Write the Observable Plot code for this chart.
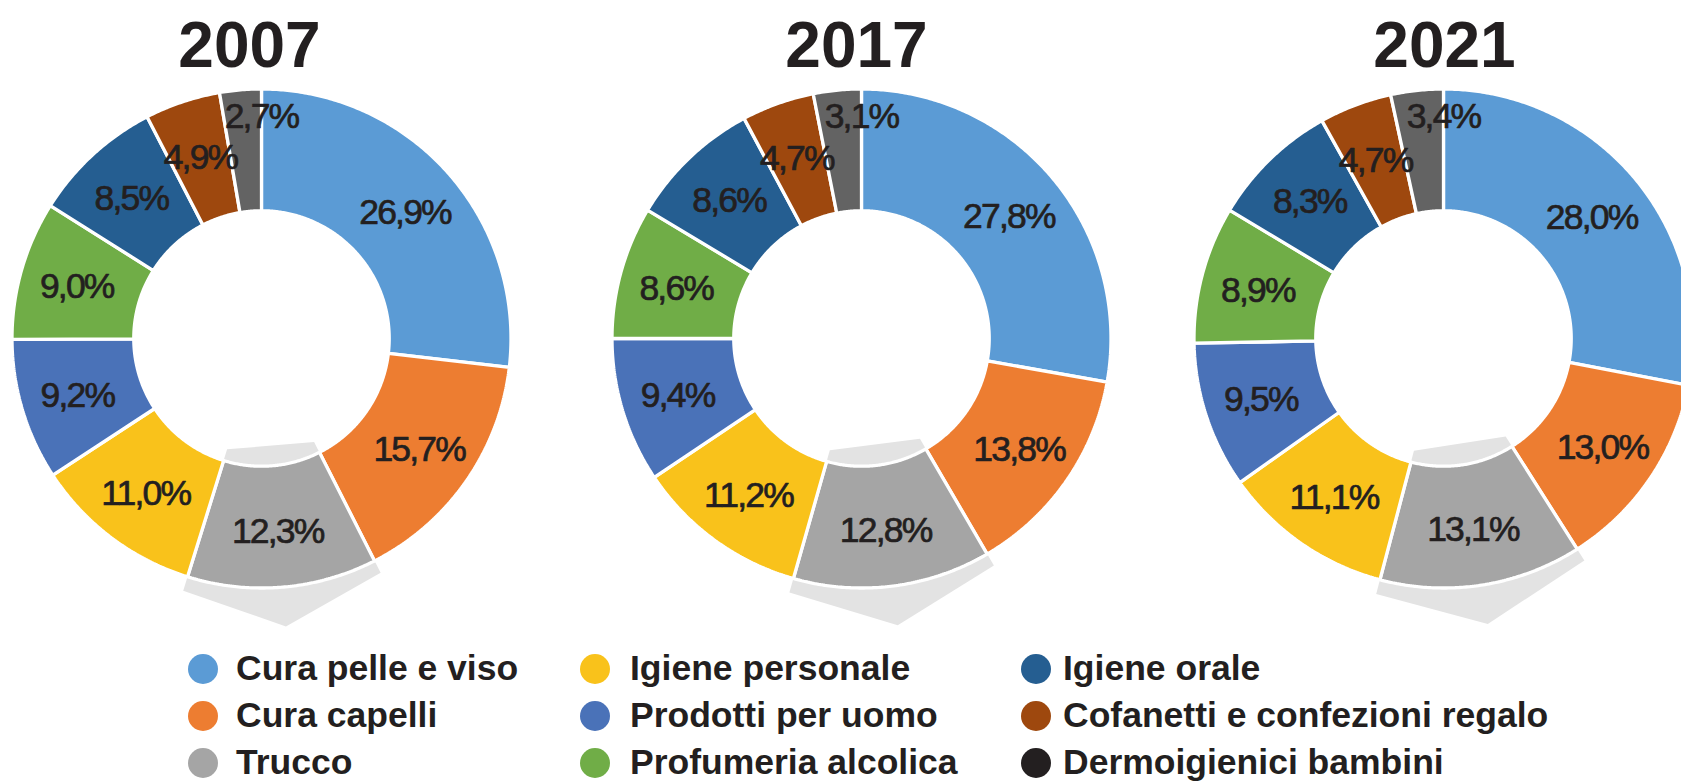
<!DOCTYPE html>
<html>
<head>
<meta charset="utf-8">
<script src="https://cdn.jsdelivr.net/npm/d3@7"></script>
<script src="https://cdn.jsdelivr.net/npm/@observablehq/plot@0.6"></script>
<style>
  html, body { margin: 0; padding: 0; background: #fff; overflow: hidden; width: 1681px; }
  #chart svg { display: block; }
  #legend { position: relative; width: 1681px; height: 136px;
    font-family: "Liberation Sans", Arial, sans-serif; font-weight: bold; font-size: 35.5px; color: #231f20; }
  #legend .dot { position: absolute; width: 30px; height: 30px; border-radius: 50%; }
  #legend .lab { position: absolute; height: 47px; line-height: 47px; white-space: nowrap; }
</style>
</head>
<body>
<div id="chart"></div>
<div id="legend"></div>
<script>
// ---------- data ----------
const categories = [
  "Cura pelle e viso", "Cura capelli", "Trucco", "Igiene personale",
  "Prodotti per uomo", "Profumeria alcolica", "Igiene orale",
  "Cofanetti e confezioni regalo", "Dermoigienici bambini"
];
const years = ["2007", "2017", "2021"];
const values2007 = [26.9, 15.7, 12.3, 11.0, 9.2, 9.0, 8.5, 4.9, 2.7];
const values2017 = [27.8, 13.8, 12.8, 11.2, 9.4, 8.6, 8.6, 4.7, 3.1];
const values2021 = [28.0, 13.0, 13.1, 11.1, 9.5, 8.9, 8.3, 4.7, 3.4];
const highlighted = "Trucco";

// ---------- style / layout ----------
const sliceColors = ["#5b9bd5", "#ed7d31", "#a5a5a5", "#f9c21b", "#4a72b8", "#70ad47", "#255e91", "#9e480e", "#636363"];
const legendColors = ["#5b9bd5", "#ed7d31", "#a5a5a5", "#f9c21b", "#4a72b8", "#70ad47", "#255e91", "#9e480e", "#231f20"];
const W = 1681, H = 645;
const centers = [261, 861, 1443];
const titleOffsets = [-12, -5, 1];
const cy = 338, R = 249.5, Rv = 248, innerR = 0.515 * 248;
const labelR = 0.775 * Rv, smallLabelR = 0.9 * Rv;
const legendDotX = [203, 595, 1036];
const legendTextX = [236, 630, 1063];
const legendRowH = 47;

const series = [values2007, values2017, values2021];
const fmt = v => d3.format(".1f")(v).replace(".", ",") + "%";
const pt = (cx, a, r) => [cx + r * Math.sin(a), cy - r * Math.cos(a)];

const sliceRows = [], shadowRows = [], labelRows = [], titleRows = [];
series.forEach((vals, i) => {
  const cx = centers[i];
  const total = d3.sum(vals);
  let cum = 0;
  titleRows.push({x: cx + titleOffsets[i], y: 46, text: years[i]});
  vals.forEach((v, j) => {
    const a0 = 2 * Math.PI * cum / total;
    cum += v;
    const a1 = 2 * Math.PI * cum / total;
    const key = years[i] + "-" + j;
    const n = Math.max(4, Math.ceil((a1 - a0) / (Math.PI / 360)));
    const pts = [];
    for (let k = 0; k <= n; k++) pts.push(pt(cx, a0 + (a1 - a0) * k / n, R));
    for (let k = n; k >= 0; k--) pts.push(pt(cx, a0 + (a1 - a0) * k / n, innerR));
    pts.forEach(([x, y]) => sliceRows.push({x, y, key, fill: sliceColors[j]}));
    const am = (a0 + a1) / 2;
    if (j === vals.length - 1) {
      const [x, y] = pt(cx, 0, smallLabelR);
      labelRows.push({x, y, text: fmt(v)});
    } else {
      const [x, y] = pt(cx, am, labelR);
      labelRows.push({x, y, text: fmt(v)});
    }
    if (categories[j] === highlighted) {
      const sh = [
        pt(cx, a0, 0.468 * Rv), pt(cx, a0, 1.06 * Rv), pt(cx, am, 1.165 * Rv),
        pt(cx, a1, 1.065 * Rv), pt(cx, a1, 0.468 * Rv)
      ];
      sh.forEach(([x, y]) => shadowRows.push({x, y, key}));
    }
  });
});

const chart = Plot.plot({
  width: W, height: H, margin: 0,
  style: {background: "white"},
  x: {domain: [0, W], range: [0, W], axis: null},
  y: {domain: [0, H], range: [0, H], axis: null},
  color: {type: "identity"},
  marks: [
    Plot.line(shadowRows, {x: "x", y: "y", z: "key", fill: "#e3e3e3", stroke: "none", curve: "linear-closed"}),
    Plot.line(sliceRows, {x: "x", y: "y", z: "key", fill: d => d.fill, stroke: "white", strokeWidth: 3.3,
      strokeLinejoin: "miter", curve: "linear-closed"}),
    Plot.text(labelRows, {x: "x", y: "y", text: "text", dy: 1.5, fontSize: 35.5,
      fontFamily: "Liberation Sans, Arial, sans-serif", fill: "#231f20",
      stroke: "#231f20", strokeWidth: 0.7}),
    Plot.text(titleRows, {x: "x", y: "y", text: "text", fontSize: 64, fontWeight: "bold",
      fontFamily: "Liberation Sans, Arial, sans-serif", fill: "#231f20"})
  ]
});
chart.querySelectorAll('g[font-size="35.5"]').forEach(g => g.style.letterSpacing = "-1.8px");
document.getElementById("chart").appendChild(chart);

// ---------- legend ----------
const legend = document.getElementById("legend");
categories.forEach((c, j) => {
  const col = Math.floor(j / 3), row = j % 3;
  const dot = document.createElement("div");
  dot.className = "dot";
  dot.style.background = legendColors[j];
  dot.style.left = (legendDotX[col] - 15) + "px";
  dot.style.top = (row * legendRowH + legendRowH / 2 - 15) + "px";
  legend.appendChild(dot);
  const lab = document.createElement("div");
  lab.className = "lab";
  lab.textContent = c;
  lab.style.left = legendTextX[col] + "px";
  lab.style.top = (row * legendRowH) + "px";
  legend.appendChild(lab);
});
</script>
</body>
</html>
